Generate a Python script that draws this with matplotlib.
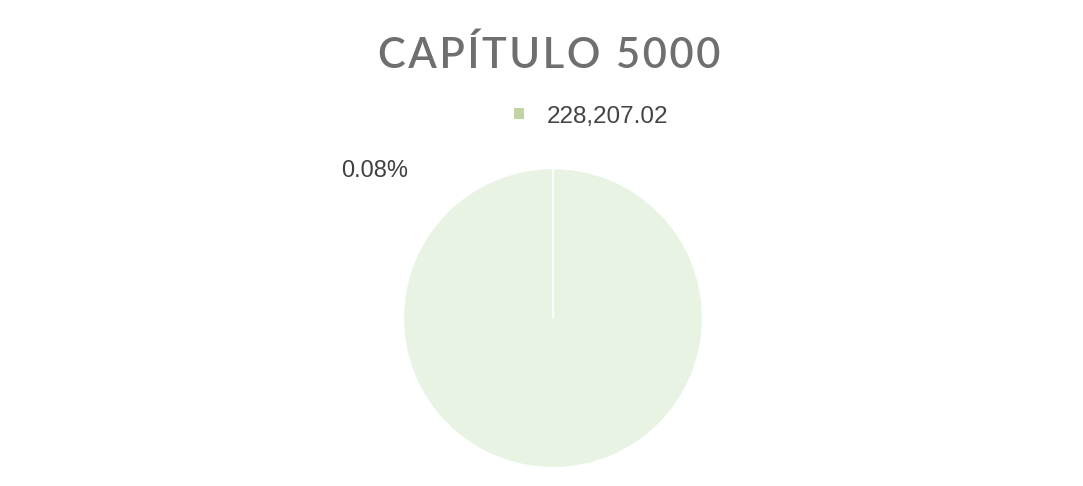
import matplotlib.pyplot as plt
import numpy as np

# Chapter 5000 budget share
labels = ["228,207.02"]
values = [228207.02]
share_pct = 0.08
title = "CAPÍTULO 5000"

pie_color = "#e8f3e3"
legend_color = "#c2d3a6"

fig = plt.figure(figsize=(10.83, 4.86), dpi=100)
fig.patch.set_facecolor("white")

ax = fig.add_axes([0.3721, 0.037, 0.277, 0.617])
wedges, _ = ax.pie(values, colors=[pie_color], startangle=90, counterclock=False,
                   wedgeprops=dict(edgecolor="white", linewidth=1.5))
ax.set_xlim(-1, 1)
ax.set_ylim(-1, 1)
ax.set_aspect("equal")

# a full wedge has no radial edge, so draw the seam at the start angle
w = wedges[0]
ang = np.deg2rad(w.theta2)
cx, cy = w.center
ax.plot([cx, cx + w.r * np.cos(ang)], [cy, cy + w.r * np.sin(ang)],
        color="white", lw=1.5, solid_capstyle="butt")

# spaced-out title
fig.text(0.507, 0.887, "\u200a".join(title), ha="center", va="center",
         fontsize=30, color="#6f6f6f", family="Lato", fontweight="semibold")

# legend entry
fig.legend(wedges, labels, loc="center", bbox_to_anchor=(0.5465, 0.76),
           frameon=False, handlelength=0.32, handleheight=0.2,
           handletextpad=1.0, labelcolor="#444444",
           prop={"family": "Liberation Sans", "size": 17.5})
leg = fig.legends[0]
for h in leg.legend_handles:
    h.set_facecolor(legend_color)
    h.set_edgecolor(legend_color)

# percentage label
fig.text(0.3455, 0.648, f"{share_pct:.2f}%", ha="center", va="center",
         fontsize=17, color="#404040", family="Liberation Sans")

fig.savefig("out.png", dpi=100)
